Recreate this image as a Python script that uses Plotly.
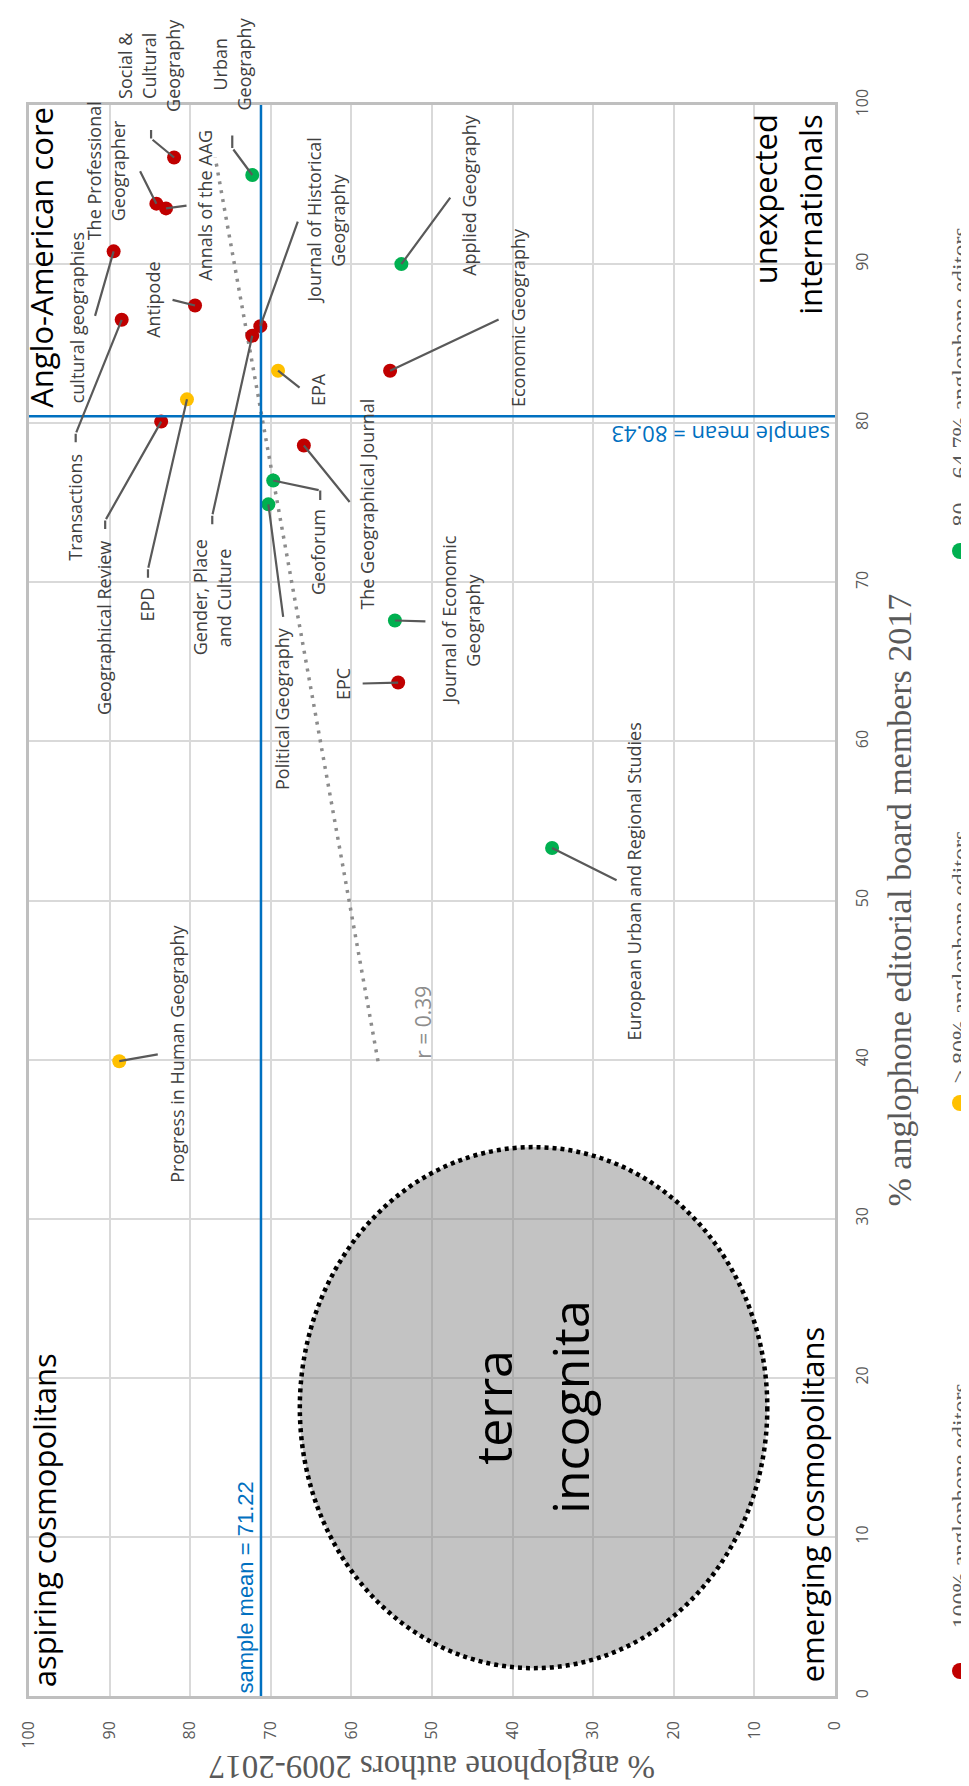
import plotly.graph_objects as go

# ---------------- data ----------------
journals = [
    "Social &<br>Cultural<br>Geography", "Urban<br>Geography", "The Professional<br>Geographer",
    "Annals of the AAG", "cultural geographies", "Antipode",
    "Journal of Historical<br>Geography", "Gender, Place<br>and Culture", "Transactions",
    "Geographical Review", "EPD", "EPA", "Geoforum", "The Geographical Journal",
    "Political Geography", "Journal of Economic<br>Geography", "EPC", "Economic Geography",
    "Applied Geography", "Progress in Human Geography", "European Urban and Regional Studies",
]
authors_pct = [82.0, 72.3, 84.2, 83.0, 89.5, 79.4, 71.3, 72.3, 88.5, 83.6, 80.4,
               69.1, 69.7, 65.9, 70.3, 54.6, 54.2, 55.2, 53.8, 88.8, 35.1]
editorial_pct = [96.7, 95.6, 93.8, 93.5, 90.8, 87.4, 86.1, 85.5, 86.5, 80.1, 81.5,
                 83.3, 76.4, 78.6, 74.9, 67.6, 63.7, 83.3, 90.0, 39.9, 53.3]
editor_group = [0, 2, 0, 0, 0, 0, 0, 0, 0, 0, 1,
                1, 2, 0, 2, 2, 0, 0, 2, 1, 2]
group_names = ["100% anglophone editors", "> 80% anglophone editors", "80 – 64.7% anglophone editors"]

mean_authors = 71.22
mean_editorial = 80.43
trend_authors = [56.7, 76.9]
trend_editorial = [39.9, 96.7]
r_text = "r = 0.39"
ellipse_authors = [8.4, 66.4]
ellipse_editorial = [1.75, 34.5]
tick_values = list(range(0, 101, 10))

# ---------------- styles / positions ----------------
W, H = 969, 1786
ML, MR, MT, MB = 21, 142, 97, 98
PW, PH = W - ML - MR, H - MT - MB
group_colors = ["#C00000", "#FFC000", "#00B050"]
SANS = "Open Sans"
SERIF = "Liberation Serif"
LABEL_SIZE = 18
LINE_GAP = 24
GLYPH = 0.15  # box-centre vs glyph-centre correction for rotated text (em)

# label centre offset (px, screen: +x right, +y down) from the point
label_offset = [(-23, -92), (-18, -111), (-48, -33), (42, -3), (-34, 66), (-39, -6),
                (69, -106), (-38, 262), (-44, 187), (-55, 206), (-37, 205), (42, 19),
                (48, 72), (66, 59), (17, 204), (69, 0), (-53, 1), (130, -53), (70, -69),
                (61, -7), (85, 33)]
# leader polyline (px offsets from the point)
leader_path = [[(-23, -19), (-23, -29)], [(-20, -27), (-20, -41)], [(-17, -34)], [(22, -3)],
               [(-19, 66)], [(-24, -6)], [(38, -106)], [(-40, 180), (-40, 190)],
               [(-46, 114), (-46, 124)], [(-56, 99), (-56, 109)], [(-39, 170), (-39, 180)],
               [(23, 18)], [(47, 10), (47, 21)], [(47, 58)], [(15, 114)], [(32, 1)],
               [(-37, 1)], [(110, -52)], [(50, -68)], [(40, -7)], [(66, 33)]]


def px(xp):
    return (xp - ML) / PW


def py(yp):
    return (MT + PH - yp) / PH


fig = go.Figure()

# trend line
fig.add_trace(go.Scatter(x=trend_authors, y=trend_editorial, mode="lines",
                         line=dict(color="#8C8C8C", width=3.5, dash="3px,6px"),
                         hoverinfo="skip", showlegend=False))

# points by group
for g, (name, col) in enumerate(zip(group_names, group_colors)):
    xs = [a for a, gg in zip(authors_pct, editor_group) if gg == g]
    ys = [e for e, gg in zip(editorial_pct, editor_group) if gg == g]
    fig.add_trace(go.Scatter(x=xs, y=ys, mode="markers", name=name,
                             marker=dict(color=col, size=14), showlegend=False))

shapes = []
annotations = []

# terra incognita ellipse
shapes.append(dict(type="circle", xref="x", yref="y",
                   x0=ellipse_authors[0], x1=ellipse_authors[1],
                   y0=ellipse_editorial[0], y1=ellipse_editorial[1],
                   fillcolor="rgba(128,128,128,0.47)",
                   line=dict(color="black", width=4.5, dash="4px,4px"), layer="above"))

# mean lines
shapes.append(dict(type="line", xref="x", yref="paper", x0=mean_authors, x1=mean_authors,
                   y0=0, y1=1, line=dict(color="#0070C0", width=2.5)))
shapes.append(dict(type="line", xref="paper", yref="y", x0=0, x1=1, y0=mean_editorial,
                   y1=mean_editorial, line=dict(color="#0070C0", width=2.5)))

cx_e = sum(ellipse_authors) / 2
cy_e = sum(ellipse_editorial) / 2
TI = 50
for txt, sh in [("terra", -33), ("incognita", 44)]:
    annotations.append(dict(x=cx_e, y=cy_e, xref="x", yref="y", text=txt, showarrow=False,
                            xanchor="center", yanchor="middle", textangle=-90,
                            xshift=sh - GLYPH * TI, font=dict(family=SANS, size=TI, color="black")))

# leaders and labels
for i, name in enumerate(journals):
    a, e = authors_pct[i], editorial_pct[i]
    pts = [(0, 0)] + leader_path[i]
    for (sx, sy), (ex, ey) in zip(pts[:-1], pts[1:]):
        annotations.append(dict(x=a, y=e, xref="x", yref="y", text="", showarrow=True,
                                arrowhead=0, arrowwidth=2.2, arrowcolor="#595959",
                                xshift=sx, yshift=-sy, ax=ex - sx, ay=ey - sy,
                                standoff=0, startstandoff=0))
    lines = name.split("<br>")
    n = len(lines)
    dx, dy = label_offset[i]
    for k, ln in enumerate(lines):
        annotations.append(dict(x=a, y=e, xref="x", yref="y", text=ln, showarrow=False,
                                xanchor="center", yanchor="middle", textangle=-90,
                                xshift=dx + (k - (n - 1) / 2) * LINE_GAP - GLYPH * LABEL_SIZE,
                                yshift=-dy, font=dict(family=SANS, size=LABEL_SIZE, color="#404040")))

# r label
annotations.append(dict(x=trend_authors[0], y=trend_editorial[0], xref="x", yref="y",
                        text=r_text, showarrow=False, textangle=-90, xshift=45,
                        xanchor="center", yanchor="bottom",
                        font=dict(family=SANS, size=21, color="#8C8C8C")))

# mean labels
annotations.append(dict(x=mean_authors, y=0, xref="x", yref="paper", text="sample mean = 71.22",
                        showarrow=False, textangle=-90, xanchor="right", yanchor="bottom",
                        xshift=-1, yshift=1, font=dict(family="Liberation Sans", size=22, color="#0070C0")))
annotations.append(dict(x=1, y=mean_editorial, xref="paper", yref="y", text="sample mean = 80.43",
                        showarrow=False, textangle=180, xanchor="right", yanchor="top",
                        xshift=-3, yshift=-1, font=dict(family=SANS, size=22, color="#0070C0")))

# quadrant labels
QS = 31
QF = dict(family=SANS, size=QS, color="black")
qd = GLYPH * QS
annotations.append(dict(x=px(37 - qd), y=1, xref="paper", yref="paper", text="Anglo-American core",
                        showarrow=False, textangle=-90, xanchor="center", yanchor="top", font=QF))
annotations.append(dict(x=px(762 - qd), y=py(104), xref="paper", yref="paper", text="unexpected",
                        showarrow=False, textangle=-90, xanchor="center", yanchor="top", font=QF))
annotations.append(dict(x=px(807 - qd), y=py(104), xref="paper", yref="paper", text="internationals",
                        showarrow=False, textangle=-90, xanchor="center", yanchor="top", font=QF))
annotations.append(dict(x=px(41 - qd), y=py(1681), xref="paper", yref="paper", text="aspiring cosmopolitans",
                        showarrow=False, textangle=-90, xanchor="center", yanchor="bottom", font=QF))
annotations.append(dict(x=px(809 - qd), y=py(1676), xref="paper", yref="paper", text="emerging cosmopolitans",
                        showarrow=False, textangle=-90, xanchor="center", yanchor="bottom", font=QF))

# axis titles
annotations.append(dict(x=px(891), y=0.5, xref="paper", yref="paper",
                        text="% anglophone editorial board members 2017", showarrow=False,
                        xanchor="center", yanchor="middle",
                        textangle=-90, font=dict(family=SERIF, size=34, color="#595959")))
annotations.append(dict(x=0.5, y=py(1759), xref="paper", yref="paper",
                        text="% anglophone authors 2009-2017", showarrow=False,
                        xanchor="center", yanchor="middle",
                        textangle=180, font=dict(family=SERIF, size=33, color="#595959")))

# legend (drawn manually, rotated)
leg_marker_y = [1663, 1095, 543]
leg_text_y = [1622, 1077, 520]
for g in range(3):
    shapes.append(dict(type="circle", xref="paper", yref="paper", xsizemode="pixel", ysizemode="pixel",
                       xanchor=px(952), yanchor=py(leg_marker_y[g]), x0=-8, x1=8, y0=-8, y1=8,
                       fillcolor=group_colors[g], line=dict(width=0)))
    annotations.append(dict(x=px(951), y=py(leg_text_y[g]), xref="paper", yref="paper",
                            text=group_names[g], showarrow=False, textangle=-90,
                            xanchor="center", yanchor="bottom",
                            font=dict(family=SERIF, size=24, color="#595959")))

fig.update_layout(
    width=W, height=H, margin=dict(l=ML, r=MR, t=MT, b=MB),
    paper_bgcolor="white", plot_bgcolor="white", showlegend=False,
    shapes=shapes, annotations=annotations,
    xaxis=dict(range=[100, 0], tickvals=tick_values, showgrid=True, gridcolor="#D9D9D9", gridwidth=2,
               zeroline=False, showline=True, mirror=True, linecolor="#BFBFBF", linewidth=2.5,
               tickangle=-90, ticks="", tickfont=dict(family=SANS, size=16, color="#595959"),
               ticklabelstandoff=16, automargin=False),
    yaxis=dict(range=[0, 100], tickvals=tick_values, side="right", showgrid=True, gridcolor="#D9D9D9",
               gridwidth=2, zeroline=False, showline=True, mirror=True, linecolor="#BFBFBF", linewidth=2.5,
               tickangle=-90, ticks="", tickfont=dict(family=SANS, size=16, color="#595959"),
               ticklabelstandoff=11, automargin=False),
)

fig.write_html("out.html")
